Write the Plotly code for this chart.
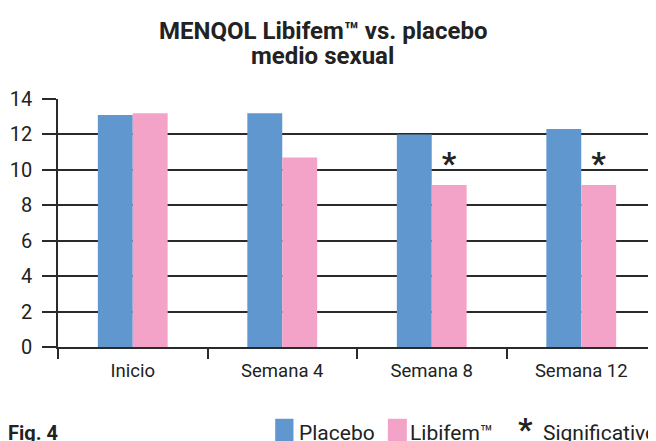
import plotly.graph_objects as go

categories = ["Inicio", "Semana 4", "Semana 8", "Semana 12"]
placebo = [13.1, 13.2, 12.0, 12.3]
libifem = [13.2, 10.7, 9.15, 9.15]
significant = ["", "", "*", "*"]
y_ticks = [0, 2, 4, 6, 8, 10, 12, 14]
series_names = ["Placebo", "Libifem\u2122"]
sig_label = "Significativo"
title_lines = ["<b>MENQOL Libifem\u2122 vs. placebo</b>", "<b>medio sexual</b>"]
fig_label = "<b>Fig. 4</b>"

BLUE = "#6197CF"
PINK = "#F3A3C7"
DARK = "#2a2a2a"
TXT = "#222222"
FONT = "Roboto"

# the page body has an 8px default margin; figure is sized to fit the window
W, H = 648, 433
L, R, T, B = 49.7, 648.0, 91.3, 338.7

fig = go.Figure()
fig.add_trace(go.Bar(x=categories, y=placebo, name=series_names[0],
                     marker=dict(color=BLUE, line=dict(width=0)), showlegend=False))
fig.add_trace(go.Bar(x=categories, y=libifem, name=series_names[1],
                     marker=dict(color=PINK, line=dict(width=0)), showlegend=False,
                     text=significant, textposition="outside", cliponaxis=False,
                     textfont=dict(family=FONT, size=32, color=TXT, weight="bold")))

fig.update_layout(
    width=W, height=H,
    margin=dict(l=L, r=W - R, t=T, b=H - B, pad=0),
    paper_bgcolor="white", plot_bgcolor="white",
    barmode="group", bargap=0.533, bargroupgap=0,
    font=dict(family=FONT, color=TXT),
    xaxis=dict(type="category", tickson="boundaries", ticks="outside", ticklen=10,
               tickwidth=1.5, tickcolor=DARK, showline=True, linecolor=DARK, linewidth=1.5,
               showgrid=False, tickfont=dict(family=FONT, size=18.5, color=TXT),
               ticklabelstandoff=6, range=[-0.5, 3.5]),
    yaxis=dict(range=[0, 14], tickvals=y_ticks, ticks="outside", ticklen=14,
               tickwidth=1.5, tickcolor=DARK, showline=True, linecolor=DARK, linewidth=1.5,
               showgrid=True, gridcolor=DARK, gridwidth=1.5, zeroline=False,
               tickfont=dict(family=FONT, size=20, color=TXT),
               ticklabelstandoff=6),
)

def px(x):
    return (x - L) / (R - L)
def py(y):
    return (B - y) / (B - T)

shapes = [
    dict(type="rect", xref="paper", yref="paper", x0=px(267), x1=px(285.3), y0=py(440), y1=py(410.3),
         fillcolor=BLUE, line=dict(width=0)),
    dict(type="rect", xref="paper", yref="paper", x0=px(379.7), x1=px(398.7), y0=py(440), y1=py(410.3),
         fillcolor=PINK, line=dict(width=0)),
]
fig.update_layout(shapes=shapes)

# title (two lines, tight spacing)
for line, cy in zip(title_lines, [23.3, 48.3]):
    fig.add_annotation(x=px(314.5), y=py(cy), xref="paper", yref="paper", xanchor="center", yanchor="middle",
                       text=line, showarrow=False, font=dict(family=FONT, size=24, color=TXT))

leg_y = py(424.6)
fig.add_annotation(x=px(-2), y=leg_y, xref="paper", yref="paper", xanchor="left", yanchor="middle",
                   text=fig_label, showarrow=False, font=dict(family=FONT, size=20, color=TXT))
fig.add_annotation(x=px(288.5), y=leg_y, xref="paper", yref="paper", xanchor="left", yanchor="middle",
                   text=series_names[0], showarrow=False, font=dict(family=FONT, size=21, color=TXT))
fig.add_annotation(x=px(400), y=leg_y, xref="paper", yref="paper", xanchor="left", yanchor="middle",
                   text=series_names[1], showarrow=False, font=dict(family=FONT, size=21, color=TXT))
fig.add_annotation(x=px(508), y=py(421), xref="paper", yref="paper", xanchor="left", yanchor="middle",
                   text="<b>*</b>", showarrow=False, font=dict(family=FONT, size=32, color=TXT))
fig.add_annotation(x=px(533), y=leg_y, xref="paper", yref="paper", xanchor="left", yanchor="middle",
                   text=sig_label, showarrow=False, font=dict(family=FONT, size=21, color=TXT))

fig.write_html("out.html")
